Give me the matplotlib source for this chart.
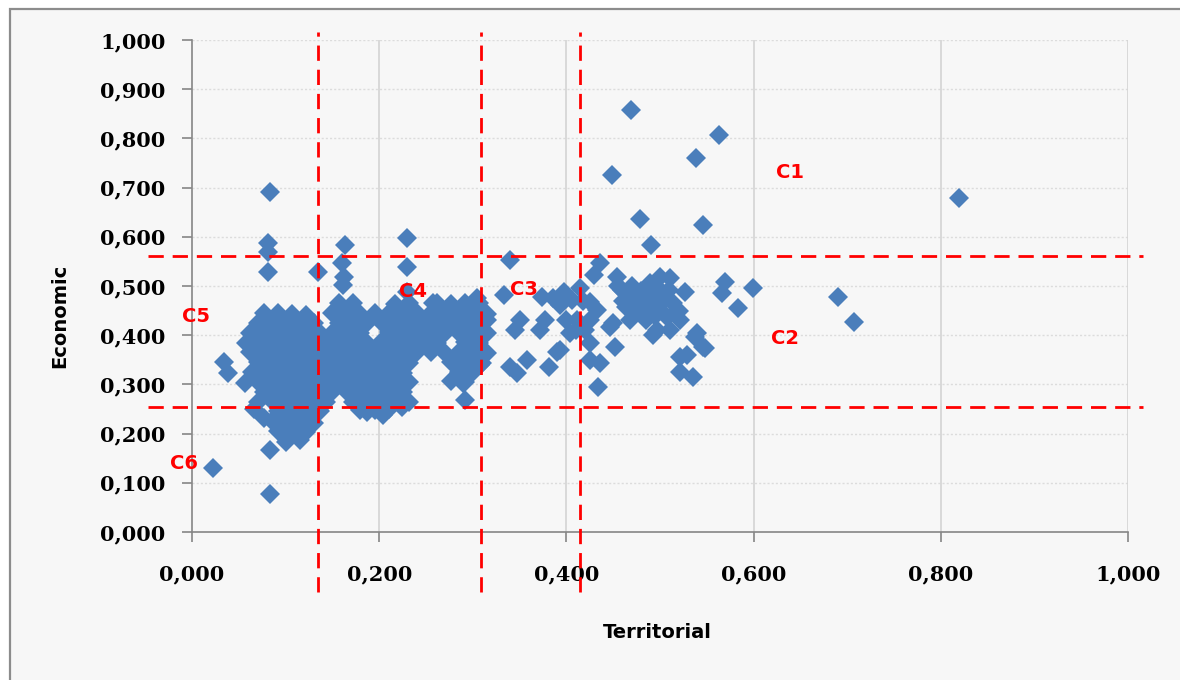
import matplotlib
matplotlib.use("Agg")
import matplotlib.pyplot as plt
from matplotlib.patches import Rectangle

# ---------------- data ----------------
x_ticks = [0.0, 0.2, 0.4, 0.6, 0.8, 1.0]
x_tick_labels = ["0,000", "0,200", "0,400", "0,600", "0,800", "1,000"]
y_ticks = [0.0, 0.1, 0.2, 0.3, 0.4, 0.5, 0.6, 0.7, 0.8, 0.9, 1.0]
y_tick_labels = ["0,000", "0,100", "0,200", "0,300", "0,400", "0,500",
                 "0,600", "0,700", "0,800", "0,900", "1,000"]

# cut-off lines separating the groups
territorial_cuts = [0.1346, 0.309, 0.4145]
economic_cuts = [0.561, 0.254]

# group labels
group_names = ["C1", "C2", "C3", "C4", "C5", "C6"]
group_x = [0.639, 0.634, 0.355, 0.236, 0.004, -0.009]
group_y = [0.730, 0.394, 0.492, 0.488, 0.439, 0.140]

# isolated points on the left (C5 / C6)
terr_left = [0.022, 0.083, 0.083, 0.083, 0.081, 0.081, 0.081, 0.034, 0.038, 0.057,
             0.066, 0.077, 0.135, 0.058]
econ_left = [0.130, 0.167, 0.077, 0.691, 0.587, 0.569, 0.528, 0.346, 0.323, 0.303,
             0.250, 0.232, 0.528, 0.385]

# dense left cluster (C5)
terr_c5 = [0.077, 0.092, 0.107, 0.122,
           0.070, 0.085, 0.100, 0.115, 0.130,
           0.062, 0.077, 0.092, 0.107, 0.122, 0.137,
           0.070, 0.085, 0.100, 0.115, 0.130, 0.145,
           0.062, 0.077, 0.092, 0.107, 0.122, 0.137,
           0.070, 0.085, 0.100, 0.115, 0.130, 0.145,
           0.064, 0.077, 0.092, 0.107, 0.122, 0.137,
           0.070, 0.085, 0.100, 0.115, 0.130, 0.145,
           0.077, 0.092, 0.107, 0.122, 0.137,
           0.070, 0.085, 0.100, 0.115, 0.130, 0.143,
           0.092, 0.107, 0.122, 0.137,
           0.085, 0.100, 0.115, 0.130,
           0.092, 0.107, 0.122,
           0.100, 0.115]
econ_c5 = [0.445, 0.446, 0.444, 0.442,
           0.425, 0.426, 0.424, 0.426, 0.425,
           0.405, 0.406, 0.404, 0.406, 0.405, 0.404,
           0.385, 0.386, 0.384, 0.386, 0.385, 0.384,
           0.365, 0.366, 0.364, 0.366, 0.365, 0.364,
           0.345, 0.346, 0.344, 0.346, 0.345, 0.344,
           0.325, 0.326, 0.324, 0.326, 0.325, 0.324,
           0.305, 0.306, 0.304, 0.306, 0.305, 0.304,
           0.285, 0.286, 0.284, 0.286, 0.285,
           0.265, 0.266, 0.264, 0.266, 0.265, 0.264,
           0.245, 0.246, 0.244, 0.246,
           0.225, 0.224, 0.226, 0.222,
           0.205, 0.204, 0.203,
           0.183, 0.187]

# middle cluster (C4)
terr_c4 = [0.163, 0.160, 0.162, 0.161, 0.230, 0.230, 0.230, 0.258, 0.304, 0.315,
           0.310, 0.290, 0.308, 0.292, 0.187, 0.204, 0.224,
           0.157, 0.172, 0.217, 0.232, 0.262, 0.277, 0.292, 0.307,
           0.150, 0.165, 0.180, 0.195, 0.210, 0.225, 0.240, 0.255, 0.270, 0.285, 0.300, 0.315,
           0.157, 0.172, 0.187, 0.202, 0.217, 0.232, 0.247, 0.262, 0.277, 0.292, 0.307,
           0.150, 0.165, 0.180, 0.210, 0.225, 0.240, 0.255, 0.270, 0.285, 0.300, 0.315,
           0.157, 0.172, 0.187, 0.202, 0.217, 0.232, 0.247, 0.262, 0.292, 0.307,
           0.150, 0.165, 0.180, 0.195, 0.210, 0.225, 0.240, 0.255, 0.270, 0.285, 0.300, 0.315,
           0.157, 0.172, 0.187, 0.202, 0.217, 0.232, 0.277, 0.292, 0.307,
           0.150, 0.165, 0.180, 0.195, 0.210, 0.225, 0.285, 0.300,
           0.157, 0.172, 0.187, 0.202, 0.217, 0.232, 0.277, 0.292,
           0.150, 0.165, 0.180, 0.195, 0.210, 0.225,
           0.172, 0.187, 0.202, 0.217, 0.232,
           0.180, 0.195, 0.210]
econ_c4 = [0.583, 0.547, 0.519, 0.502, 0.598, 0.539, 0.488, 0.465, 0.476, 0.431,
           0.343, 0.303, 0.339, 0.268, 0.244, 0.238, 0.254,
           0.465, 0.466, 0.464, 0.466, 0.465, 0.464, 0.466, 0.465,
           0.445, 0.446, 0.444, 0.446, 0.445, 0.444, 0.446, 0.445, 0.444, 0.446, 0.445, 0.444,
           0.425, 0.426, 0.424, 0.426, 0.425, 0.424, 0.426, 0.425, 0.424, 0.426, 0.425,
           0.405, 0.406, 0.404, 0.406, 0.405, 0.404, 0.406, 0.405, 0.404, 0.406, 0.405,
           0.385, 0.386, 0.384, 0.386, 0.385, 0.384, 0.386, 0.385, 0.386, 0.385,
           0.365, 0.366, 0.364, 0.366, 0.365, 0.364, 0.366, 0.365, 0.364, 0.366, 0.365, 0.364,
           0.345, 0.346, 0.344, 0.346, 0.345, 0.344, 0.346, 0.345, 0.344,
           0.325, 0.326, 0.324, 0.326, 0.325, 0.324, 0.326, 0.325,
           0.305, 0.306, 0.304, 0.306, 0.305, 0.304, 0.306, 0.305,
           0.285, 0.286, 0.284, 0.286, 0.285, 0.284,
           0.265, 0.266, 0.264, 0.266, 0.265,
           0.248, 0.247, 0.249]

# C3 group
terr_c3 = [0.340, 0.333, 0.374, 0.397, 0.393, 0.350, 0.345, 0.377, 0.372, 0.404,
           0.358, 0.340, 0.347, 0.381, 0.390, 0.393, 0.386, 0.406, 0.400, 0.410]
econ_c3 = [0.553, 0.482, 0.478, 0.488, 0.461, 0.431, 0.411, 0.431, 0.411, 0.404,
           0.350, 0.336, 0.323, 0.336, 0.366, 0.370, 0.476, 0.472, 0.430, 0.410]

# C2 group
terr_c2 = [0.436, 0.429, 0.415, 0.425, 0.411, 0.425, 0.425, 0.425, 0.436, 0.434,
           0.433, 0.420, 0.418,
           0.454, 0.459, 0.471, 0.489, 0.500, 0.511, 0.503, 0.489, 0.479, 0.471,
           0.464, 0.450, 0.452, 0.497, 0.507, 0.514, 0.527, 0.447, 0.493,
           0.480, 0.495, 0.510, 0.490, 0.500, 0.520, 0.475, 0.460, 0.485, 0.468,
           0.455, 0.470, 0.485, 0.500, 0.515, 0.495, 0.480, 0.465,
           0.569, 0.566, 0.599, 0.583, 0.690, 0.707,
           0.537, 0.548, 0.529, 0.535, 0.521, 0.521, 0.546, 0.539, 0.511, 0.521]
econ_c2 = [0.547, 0.522, 0.496, 0.467, 0.431, 0.431, 0.384, 0.350, 0.343, 0.295,
           0.451, 0.410, 0.470,
           0.518, 0.492, 0.478, 0.506, 0.518, 0.516, 0.486, 0.472, 0.457, 0.445,
           0.457, 0.425, 0.376, 0.411, 0.437, 0.465, 0.488, 0.417, 0.400,
           0.490, 0.490, 0.492, 0.450, 0.462, 0.450, 0.465, 0.470, 0.430, 0.430,
           0.500, 0.500, 0.470, 0.475, 0.445, 0.440, 0.445, 0.485,
           0.508, 0.486, 0.496, 0.455, 0.478, 0.427,
           0.396, 0.374, 0.360, 0.315, 0.325, 0.356, 0.376, 0.404, 0.411, 0.431]

# C1 group
terr_c1 = [0.469, 0.563, 0.538, 0.449, 0.479, 0.546, 0.490, 0.819]
econ_c1 = [0.858, 0.807, 0.760, 0.726, 0.636, 0.624, 0.583, 0.679]

# ---------------- figure ----------------
BG = "#f7f7f7"
BLUE = "#4a7ebb"
RED = "#ff0000"
LABEL_FONT = "DejaVu Sans"

fig = plt.figure(figsize=(11.8, 6.8), dpi=100, facecolor="white")
# chart-area frame (its top and left edges are visible)
fig.add_artist(Rectangle((9.5 / 1180, -0.1), 2.0, (1 - 9.5 / 680) + 0.1,
                         transform=fig.transFigure, facecolor=BG,
                         edgecolor="#8c8c8c", lw=1.6, zorder=-10))

ax = fig.add_axes([192 / 1180, 1 - 532 / 680, (1128 - 192) / 1180, (532 - 40) / 680])
ax.set_facecolor(BG)
ax.patch.set_alpha(0)

ax.set_xlim(0, 1)
ax.set_ylim(0, 1)

# grid
for yv in y_ticks[1:]:
    ax.axhline(yv, color="#dcdcdc", lw=1.0, ls=(0, (1.5, 1.5)), zorder=0)
for xv in x_ticks[1:]:
    ax.axvline(xv, color="#d4d4d4", lw=1.2, zorder=0)

for s in ["top", "right"]:
    ax.spines[s].set_visible(False)
for s in ["left", "bottom"]:
    ax.spines[s].set_color("#868686")
    ax.spines[s].set_linewidth(1.2)

ax.set_xticks(x_ticks)
ax.set_xticklabels(x_tick_labels)
ax.set_yticks(y_ticks)
ax.set_yticklabels(y_tick_labels)
ax.tick_params(axis="both", length=7, width=1.2, color="#868686", direction="out")
ax.tick_params(axis="y", pad=12)
ax.tick_params(axis="x", pad=16)
for lab in ax.get_xticklabels() + ax.get_yticklabels():
    lab.set_fontfamily("DejaVu Serif")
    lab.set_fontweight("bold")
    lab.set_fontsize(15)

ax.text(-0.141, 0.439, "Economic", rotation=90, ha="center", va="center",
        fontsize=14, fontweight="bold", family=LABEL_FONT, transform=ax.transAxes)
ax.text(0.497, -0.205, "Territorial", ha="center", va="center",
        fontsize=14, fontweight="bold", family=LABEL_FONT, transform=ax.transAxes)

# scatter points
groups = [(terr_left, econ_left), (terr_c5, econ_c5), (terr_c4, econ_c4),
          (terr_c3, econ_c3), (terr_c2, econ_c2), (terr_c1, econ_c1)]
for xs, ys in groups:
    ax.plot(xs, ys, ls="none", marker="D", ms=10.5, color=BLUE, mec=BLUE, mew=0,
            zorder=3, clip_on=False)

# dashed cut-off lines
dash = (0, (5.5, 3.2))
for xv in territorial_cuts:
    ax.plot([xv, xv], [-0.122, 1.016], color=RED, lw=2.0, ls=dash, zorder=4, clip_on=False)
for yv in economic_cuts:
    ax.plot([-0.047, 1.016], [yv, yv], color=RED, lw=2.0, ls=dash, zorder=4, clip_on=False)

# group labels
for name, gx, gy in zip(group_names, group_x, group_y):
    ax.text(gx, gy, name, color=RED, fontsize=14, fontweight="bold", family=LABEL_FONT,
            ha="center", va="center", zorder=5, clip_on=False)

fig.savefig("out.png", dpi=100, facecolor="white")
